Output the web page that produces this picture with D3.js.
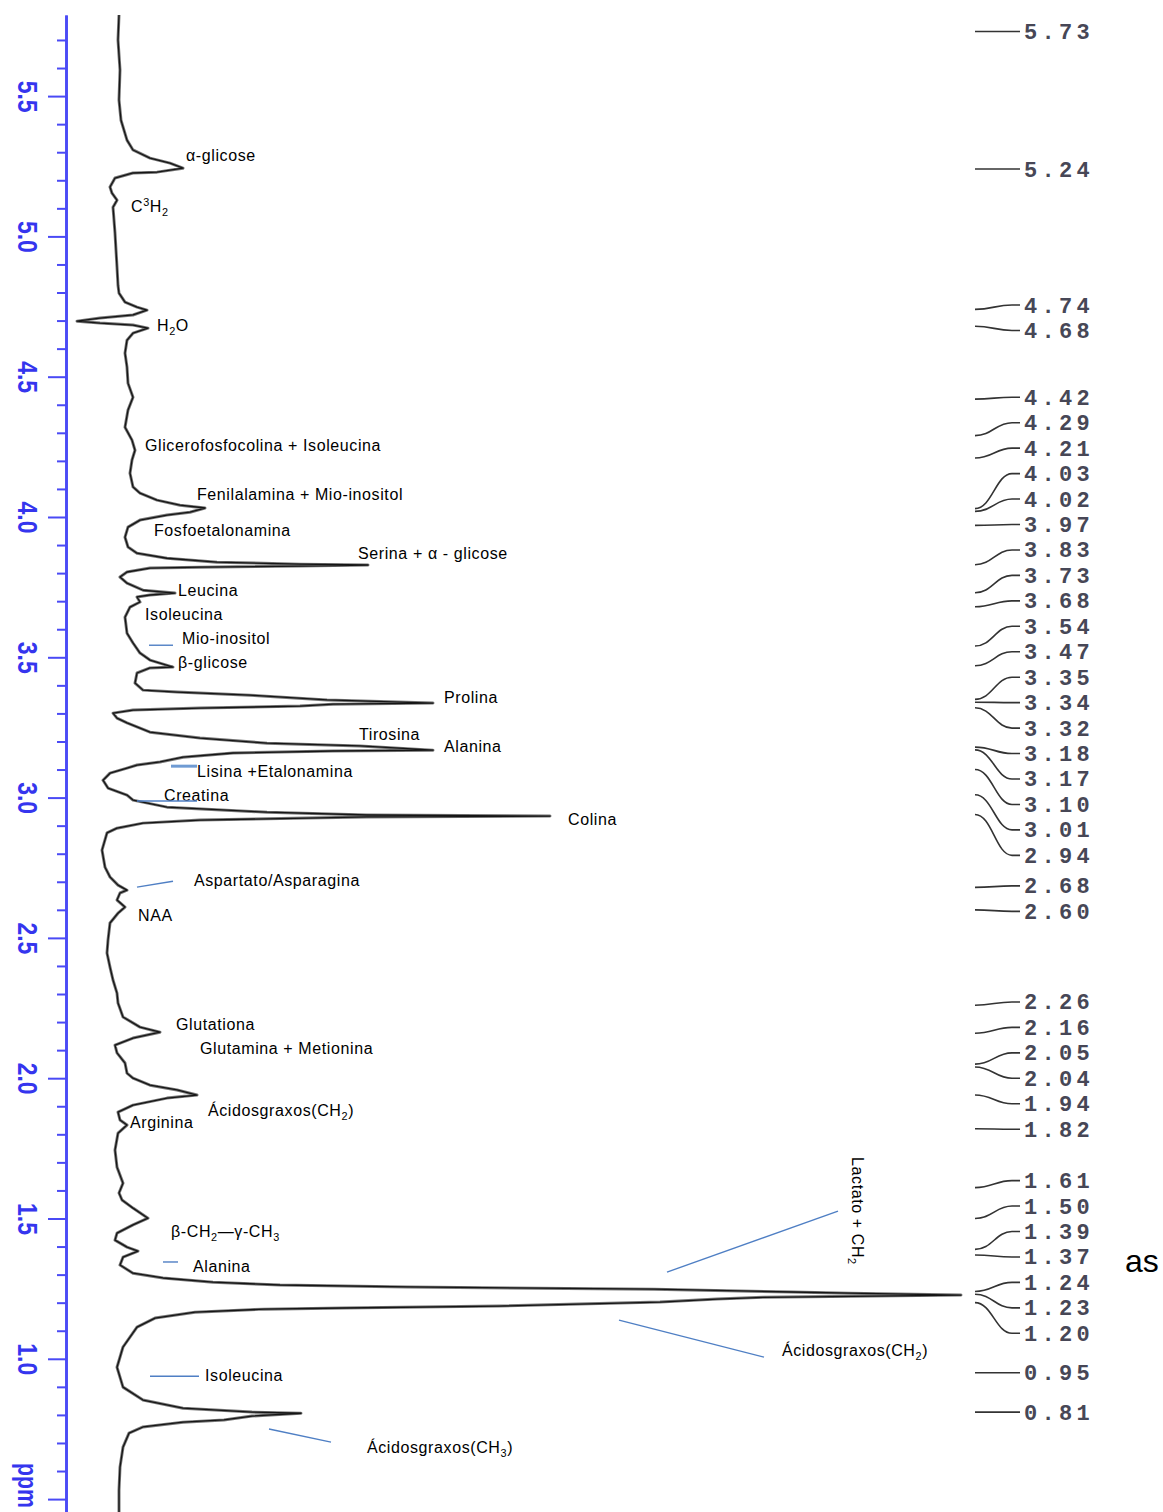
<!DOCTYPE html>
<html><head><meta charset="utf-8">
<script src="https://cdn.jsdelivr.net/npm/d3@7"></script>
<style>body{margin:0;background:#fff}svg{display:block}</style>
</head><body>
<svg id="c" width="1163" height="1512"></svg>
<script>
// ---------------- DATA ----------------
const spectrumPPM = [5.789,5.700,5.593,5.486,5.414,5.343,5.308,5.279,5.261,5.243,5.229,5.226,5.208,5.176,5.154,5.129,5.104,5.058,5.012,4.951,4.891,4.826,4.798,4.766,4.748,4.737,4.720,4.709,4.698,4.691,4.684,4.673,4.655,4.630,4.584,4.534,4.477,4.427,4.381,4.320,4.274,4.238,4.203,4.156,4.107,4.085,4.060,4.042,4.032,4.017,4.007,3.989,3.964,3.928,3.893,3.871,3.853,3.839,3.832,3.829,3.825,3.821,3.818,3.804,3.786,3.764,3.739,3.729,3.722,3.715,3.697,3.679,3.643,3.586,3.551,3.515,3.490,3.465,3.462,3.444,3.408,3.383,3.376,3.365,3.348,3.337,3.333,3.326,3.319,3.312,3.301,3.283,3.266,3.233,3.212,3.194,3.184,3.169,3.166,3.159,3.144,3.127,3.116,3.105,3.087,3.062,3.034,3.009,2.991,2.966,2.948,2.938,2.934,2.931,2.927,2.920,2.909,2.891,2.874,2.813,2.752,2.717,2.688,2.670,2.660,2.635,2.610,2.588,2.553,2.492,2.446,2.396,2.350,2.303,2.268,2.218,2.182,2.164,2.143,2.118,2.090,2.054,2.018,2.000,1.975,1.958,1.940,1.929,1.904,1.879,1.851,1.833,1.804,1.744,1.683,1.626,1.591,1.566,1.537,1.501,1.477,1.448,1.423,1.398,1.384,1.362,1.334,1.305,1.288,1.273,1.263,1.256,1.248,1.238,1.234,1.227,1.221,1.219,1.213,1.202,1.188,1.181,1.177,1.166,1.145,1.113,1.042,0.970,0.899,0.853,0.824,0.810,0.806,0.796,0.782,0.774,0.757,0.735,0.685,0.614,0.532,0.454];
const spectrumIntensity = [53,52,54,53,55,61,67,84,104,117,91,67,49,44,46,51,47,48,49,50,51,52,53,59,71,81,67,34,11,34,67,82,67,61,59,61,62,67,62,59,66,69,66,64,67,74,91,114,139,124,101,74,62,59,62,71,101,151,234,302,234,134,84,61,54,61,77,109,84,71,74,64,59,61,67,74,84,107,84,71,69,77,111,184,261,367,267,234,134,67,47,51,61,84,134,201,294,367,267,167,117,94,71,61,44,37,42,61,67,101,201,301,484,301,241,134,77,51,41,36,39,44,52,61,54,51,59,52,44,42,41,44,47,51,52,57,74,94,67,49,51,59,61,67,84,111,131,101,67,52,54,61,52,49,51,57,53,56,67,82,67,51,49,61,72,57,54,67,97,147,214,341,588,726,783,895,743,697,651,594,433,278,198,129,89,71,57,51,57,77,117,186,235,186,158,117,77,63,57,54,53,53];

const axisMajorTicks = [5.5,5.0,4.5,4.0,3.5,3.0,2.5,2.0,1.5,1.0,0.5];
const axisTickLabels = ["5.5","5.0","4.5","4.0","3.5","3.0","2.5","2.0","1.5","1.0",""];
const axisTitle = "ppm";

const peakPPM = [5.73,5.24,4.74,4.68,4.42,4.29,4.21,4.03,4.02,3.97,3.83,3.73,3.68,3.54,3.47,3.35,3.34,3.32,3.18,3.17,3.10,3.01,2.94,2.68,2.60,2.26,2.16,2.05,2.04,1.94,1.82,1.61,1.50,1.39,1.37,1.24,1.23,1.20,0.95,0.81];

// annotations (text with _x subscripts and ^x superscripts), anchored in data units
const annotationText = ["α-glicose","C^3H_2","H_2O","Glicerofosfocolina + Isoleucina","Fenilalamina + Mio-inositol","Fosfoetalonamina","Serina + α - glicose","Leucina","Isoleucina","Mio-inositol","β-glicose","Prolina","Tirosina","Alanina","Lisina +Etalonamina","Creatina","Colina","Aspartato/Asparagina","NAA","Glutationa","Glutamina + Metionina","Ácidosgraxos(CH_2)","Arginina","β-CH_2—γ-CH_3","Alanina","Isoleucina","Ácidosgraxos(CH_3)","Ácidosgraxos(CH_2)"];
const annotationPPM = [5.268,5.087,4.663,4.235,4.060,3.932,3.850,3.718,3.633,3.547,3.462,3.337,3.205,3.162,3.073,2.988,2.902,2.685,2.560,2.171,2.086,1.865,1.822,1.434,1.309,0.921,0.664,1.010];
const annotationIntensity = [120,65,91,79,131,88,292,112,79,116,112,378,293,378,131,98,502,128,72,110,134,142,64,105,127,139,301,716];

const verticalNoteText = "Lactato + CH_2";
const verticalNotePPM = 1.719;
const verticalNoteIntensity = 786;

// leader lines (blue) in data units
const leaderPPM1 = [3.543,3.112,2.988,2.681,1.345,1.309,1.138,0.938,0.750];
const leaderInt1 = [83,105,71,71,97,601,553,84,203];
const leaderPPM2 = [3.543,3.112,2.988,2.702,1.345,1.526,1.006,0.938,0.703];
const leaderInt2 = [107,131,131,107,112,772,698,133,265];
const leaderThick = [false,true,false,false,false,false,false,false,false];

const sideText = "as";

// ---------------- CHART ----------------
const svg = d3.select("#c");
const yScale = d3.scaleLinear().domain([5.789, 0.454]).range([15, 1512]);
const xScale = d3.scaleLinear().domain([0, 900]).range([66, 966]);
const FONT = "'Liberation Sans', Arial, sans-serif";
const axisColor = "#4a4af5";

// axis
const minorTicks = d3.range(5, 58).map(i => i / 10).filter(v => !axisMajorTicks.some(m => Math.abs(m - v) < 1e-6));
const gAxis = svg.append("g").attr("transform", "translate(66,0)");
gAxis.call(d3.axisLeft(yScale).tickValues(minorTicks).tickSize(9).tickSizeOuter(0).tickFormat(""));
const gMajor = svg.append("g").attr("transform", "translate(66,0)");
gMajor.call(d3.axisLeft(yScale).tickValues(axisMajorTicks).tickSize(18).tickSizeOuter(0)
  .tickFormat((d, i) => axisTickLabels[i]));
[gAxis, gMajor].forEach(g => {
  g.select(".domain").attr("stroke", axisColor).attr("stroke-width", 2.6);
  g.selectAll(".tick line").attr("stroke", axisColor).attr("stroke-width", 2);
});
gMajor.selectAll(".tick text")
  .attr("x", 0).attr("dy", null)
  .attr("transform", "translate(-48,0) rotate(90) scale(0.82,1)")
  .attr("text-anchor", "middle")
  .attr("font-family", FONT).attr("font-weight", "bold").attr("font-size", 28)
  .attr("fill", "#3535ee");
svg.append("text").text(axisTitle)
  .attr("transform", "translate(18,1463) rotate(90) scale(0.76,1)")
  .attr("font-family", FONT).attr("font-weight", "bold").attr("font-size", 28)
  .attr("fill", "#3535ee");

// spectrum
const line = d3.line().x((d, i) => xScale(spectrumIntensity[i])).y((d, i) => yScale(spectrumPPM[i]));
const specPath = line(spectrumPPM);
svg.append("path").attr("d", specPath).attr("fill", "none").attr("stroke", "#777").attr("stroke-width", 3).attr("stroke-linejoin", "round");
svg.append("path").attr("d", specPath).attr("fill", "none").attr("stroke", "#151515").attr("stroke-width", 1.3).attr("stroke-linejoin", "round");

// rich text helper
function rich(sel, str) {
  const parts = str.split(/([_^]\d)/).filter(p => p.length);
  let cur = 0;
  parts.forEach(p => {
    let target = 0, txt = p, small = false;
    if (p[0] === "_") { target = 4; txt = p.slice(1); small = true; }
    else if (p[0] === "^") { target = -6; txt = p.slice(1); small = true; }
    const t = sel.append("tspan").text(txt).attr("dy", target - cur);
    if (small) t.attr("font-size", "0.68em");
    cur = target;
  });
}

// annotations
const gAnn = svg.append("g").attr("font-family", FONT).attr("font-size", 16).attr("fill", "#000").attr("letter-spacing", 0.6);
annotationText.forEach((t, i) => {
  const tx = gAnn.append("text").attr("x", xScale(annotationIntensity[i])).attr("y", yScale(annotationPPM[i]));
  rich(tx, t);
});
const vt = gAnn.append("text")
  .attr("transform", `translate(${xScale(verticalNoteIntensity)},${yScale(verticalNotePPM)}) rotate(90)`);
rich(vt, verticalNoteText);

// leader lines
leaderPPM1.forEach((p, i) => {
  svg.append("line")
    .attr("x1", xScale(leaderInt1[i])).attr("y1", yScale(p))
    .attr("x2", xScale(leaderInt2[i])).attr("y2", yScale(leaderPPM2[i]))
    .attr("stroke", leaderThick[i] ? "#6f9bd3" : "#4f7fc4")
    .attr("stroke-width", leaderThick[i] ? 3 : 1.4);
});

// peak list with label layout (cluster centroid)
const spacing = 25.45;
let clusters = peakPPM.map((p, i) => ({ idx: [i], ys: [yScale(p)] }));
const cStart = c => d3.mean(c.ys) - (c.ys.length - 1) * spacing / 2;
let merged = true;
while (merged) {
  merged = false;
  for (let i = 0; i < clusters.length - 1; i++) {
    const a = clusters[i], b = clusters[i + 1];
    const aEnd = cStart(a) + (a.ys.length - 1) * spacing;
    if (cStart(b) - aEnd < spacing) {
      clusters.splice(i, 2, { idx: a.idx.concat(b.idx), ys: a.ys.concat(b.ys) });
      merged = true; break;
    }
  }
}
const labelY = [];
clusters.forEach(c => { const s = cStart(c); c.idx.forEach((k, j) => labelY[k] = s + j * spacing); });

const gPeaks = svg.append("g");
peakPPM.forEach((p, i) => {
  const y0 = yScale(p), y1 = labelY[i];
  gPeaks.append("path")
    .attr("d", `M975,${y0} C992,${y0} 996,${y1} 1012,${y1} L1020,${y1}`)
    .attr("fill", "none").attr("stroke", "#333").attr("stroke-width", 1.6);
  gPeaks.append("text").attr("x", 1024).attr("y", y1 + 7.5)
    .text(p.toFixed(2))
    .attr("font-family", "'Liberation Mono', 'Courier New', monospace")
    .attr("font-size", 22).attr("letter-spacing", 4.3).attr("font-weight", "bold")
    .attr("fill", "#474756");
});

svg.append("text").text(sideText).attr("x", 1125).attr("y", 1272)
  .attr("font-family", FONT).attr("font-size", 32).attr("fill", "#000");
</script>
</body></html>
